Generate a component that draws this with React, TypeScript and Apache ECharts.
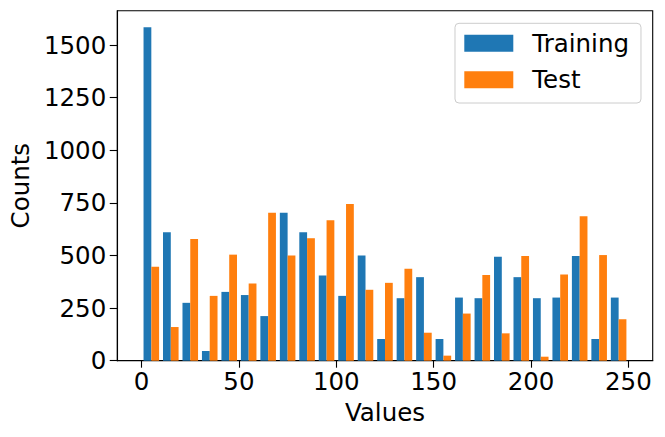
import React, { useEffect, useRef } from "react";
import * as echarts from "echarts";

const binStarts = [0, 10, 20, 30, 40, 50, 60, 70, 80, 90, 100, 110, 120, 130, 140, 150, 160, 170, 180, 190, 200, 210, 220, 230, 240];
const binWidth = 10;
const trainingCounts = [1584, 610, 275, 46, 327, 312, 212, 703, 610, 405, 308, 500, 103, 297, 397, 103, 300, 297, 494, 397, 297, 300, 497, 103, 300];
const testCounts = [447, 160, 578, 308, 504, 367, 703, 500, 582, 667, 745, 337, 370, 437, 133, 24, 224, 407, 130, 497, 19, 410, 687, 502, 197];
const xTicks = [0, 50, 100, 150, 200, 250];
const yTicks = [0, 250, 500, 750, 1000, 1250, 1500];
const seriesNames = ["Training", "Test"];
const colors = ["#1f77b4", "#ff7f0e"];

const FONT = "DejaVu Sans";
const FS = 24.5;

export default function App() {
  const ref = useRef<HTMLDivElement>(null);
  useEffect(() => {
    if (!ref.current) return;
    const chart = echarts.init(ref.current, null, { renderer: "svg" });
    const allCounts = [trainingCounts, testCounts];
    const maxCount = Math.max(...trainingCounts, ...testCounts);
    const xMin = binStarts[0];
    const xMax = binStarts[binStarts.length - 1] + binWidth;
    const xPad = (xMax - xMin) * 0.05;

    const makeSeries = (s: number) => ({
      type: "custom",
      name: seriesNames[s],
      color: colors[s],
      data: binStarts.map((b, i) => [b, b + binWidth, allCounts[s][i]]),
      encode: { x: [0, 1], y: 2 },
      renderItem: (params: any, api: any) => {
        const b0 = api.value(0);
        const b1 = api.value(1);
        const v = api.value(2);
        const w = b1 - b0;
        const x0 = b0 + 0.1 * w + s * 0.4 * w;
        const x1 = x0 + 0.4 * w;
        const p0 = api.coord([x0, v]);
        const p1 = api.coord([x1, 0]);
        return {
          type: "rect",
          shape: { x: p0[0], y: p0[1], width: p1[0] - p0[0], height: p1[1] - p0[1] },
          style: { fill: colors[s] },
        };
      },
    });

    chart.setOption({
      animation: false,
      textStyle: { fontFamily: FONT },
      grid: {
        left: 113.3,
        right: 12.3,
        top: 10.7,
        bottom: 76.3,
        show: true,
        borderColor: "#000",
        borderWidth: 1.1,
        backgroundColor: "transparent",
      },
      legend: {
        orient: "vertical",
        left: 455,
        top: 23.3,
        itemWidth: 49,
        itemHeight: 17,
        itemGap: 11.4,
        icon: "rect",
        padding: [7.5, 12, 10.8, 9.3],
        borderColor: "#cccccc",
        borderWidth: 1,
        borderRadius: 4,
        backgroundColor: "#ffffff",
        textStyle: { fontFamily: FONT, fontSize: FS, color: "#000", lineHeight: 24, padding: [0, 0, 0, 14] },
        data: seriesNames,
      },
      xAxis: {
        type: "value",
        min: xMin - xPad,
        max: xMax + xPad,
        name: "Values",
        nameLocation: "middle",
        nameGap: 39,
        nameTextStyle: { fontFamily: FONT, fontSize: FS, color: "#000" },
        splitLine: { show: false },
        axisLine: { show: true, onZero: false, lineStyle: { color: "#000", width: 1.1 } },
        axisTick: { show: true, length: 7, lineStyle: { color: "#000", width: 1.1 }, customValues: xTicks },
        axisLabel: {
          fontFamily: FONT,
          fontSize: FS,
          color: "#000",
          margin: 8,
          customValues: xTicks,
          formatter: (v: number) => String(v),
        },
      },
      yAxis: {
        type: "value",
        min: 0,
        max: maxCount * 1.05,
        name: "Counts",
        nameLocation: "middle",
        nameGap: 74,
        nameTextStyle: { fontFamily: FONT, fontSize: FS, color: "#000" },
        splitLine: { show: false },
        axisLine: { show: true, onZero: false, lineStyle: { color: "#000", width: 1.1 } },
        axisTick: { show: true, length: 7.5, lineStyle: { color: "#000", width: 1.1 }, customValues: yTicks },
        axisLabel: {
          fontFamily: FONT,
          fontSize: FS,
          color: "#000",
          margin: 11,
          customValues: yTicks,
          formatter: (v: number) => String(v),
        },
      },
      series: [makeSeries(0), makeSeries(1)],
    });
    return () => chart.dispose();
  }, []);
  return (
    <div
      ref={ref}
      style={{ position: "absolute", left: 0, top: 0, width: 665, height: 437, background: "#fff" }}
    />
  );
}
